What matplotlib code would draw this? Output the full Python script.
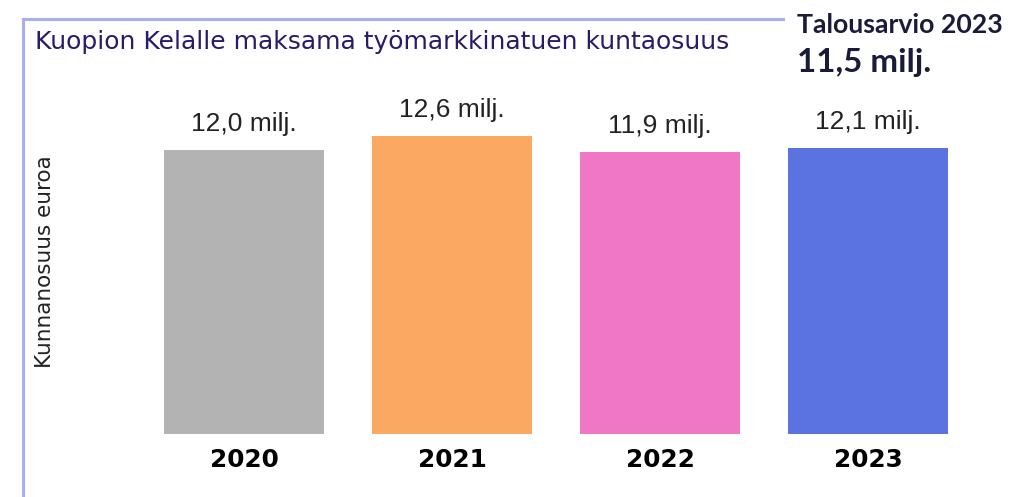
import matplotlib
matplotlib.use("Agg")
import matplotlib.pyplot as plt
from matplotlib.lines import Line2D

# data
years = ["2020", "2021", "2022", "2023"]
values = [12.0, 12.6, 11.9, 12.1]
labels = ["12,0 milj.", "12,6 milj.", "11,9 milj.", "12,1 milj."]
colors = ["#b3b3b3", "#fba862", "#f077c6", "#5b73de"]

title = "Kuopion Kelalle maksama työmarkkinatuen kuntaosuus"
budget_title = "Talousarvio 2023"
budget_value = "11,5 milj."
ylabel = "Kunnanosuus euroa"

W, H = 1033, 497
fig = plt.figure(figsize=(W / 100, H / 100), dpi=100)

# axes placed in pixel terms
left, right, bottom, top = 140, 972, 434, 100
ax = fig.add_axes([left / W, 1 - bottom / H, (right - left) / W, (bottom - top) / H])
x = range(len(years))
ax.bar(x, values, width=0.765, color=colors)
ax.set_xlim(-0.5, 3.5)
ax.set_ylim(0, 14.11)
for i, (v, lab) in enumerate(zip(values, labels)):
    ax.annotate(lab, (i, v), xytext=(0, 19), textcoords="offset pixels",
                ha="center", va="baseline", fontsize=19,
                family="Liberation Sans", color="#222222")
ax.set_xticks(list(x))
ax.set_xticklabels(years, fontsize=17.8, fontweight="bold", family="DejaVu Sans")
ax.tick_params(axis="x", length=0, pad=10)
ax.set_yticks([])
for s in ax.spines.values():
    s.set_visible(False)

# y label
fig.text(45 / W, 1 - 262 / H, ylabel, rotation=90, ha="center", va="center",
         fontsize=15.5, family="Liberation Sans Narrow", color="#222222")

# border lines
bc = "#a6aef5"
fig.add_artist(Line2D([23 / W, 783 / W], [1 - 19 / H, 1 - 19 / H], color=bc, lw=2.2))
fig.add_artist(Line2D([23 / W, 23 / W], [1 - 19 / H, 0], color=bc, lw=2.2))

# titles
fig.text(35 / W, 1 - 49 / H, title, ha="left", va="baseline", fontsize=18,
         family="DejaVu Sans", color="#2a1a6a")
fig.text(797 / W, 1 - 33 / H, budget_title, ha="left", va="baseline", fontsize=19.2,
         family="Lato", fontweight="bold", color="#1a1a3a")
fig.text(797 / W, 1 - 72 / H, budget_value, ha="left", va="baseline", fontsize=23.8,
         family="Lato", fontweight="bold", color="#1a1a3a")

fig.savefig("out.png", dpi=100)
